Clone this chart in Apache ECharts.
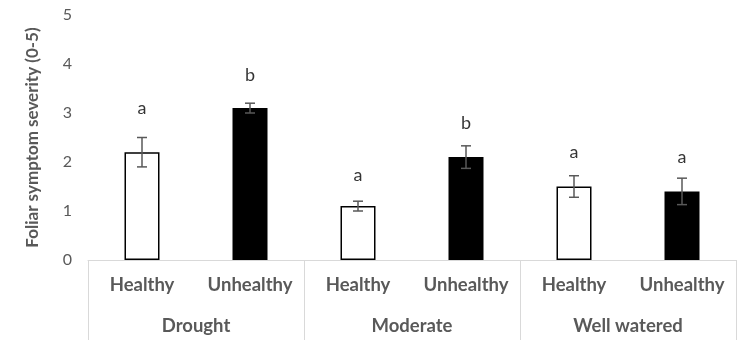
<!DOCTYPE html>
<html><head><meta charset="utf-8">
<script src="https://cdn.jsdelivr.net/npm/echarts@6/dist/echarts.min.js"></script>
<style>html,body{margin:0;padding:0;background:#fff}#c{width:755px;height:345px}</style>
</head><body><div id="c"></div>
<script>
const categories = ['Healthy','Unhealthy','Healthy','Unhealthy','Healthy','Unhealthy'];
const groups = ['Drought','Moderate','Well watered'];
const means = [2.2, 3.1, 1.1, 2.1, 1.5, 1.4];
const errors = [0.3, 0.1, 0.1, 0.23, 0.22, 0.27];
const letters = ['a','b','a','b','a','a'];
const letterY = [3.1, 3.78, 1.73, 2.79, 2.21, 2.1];
const yTicks = [0,1,2,3,4,5];

const FONT = 'Lato';
const GRAY = '#595959';
const chart = echarts.init(document.getElementById('c'), null, {renderer:'canvas'});
chart.setOption({
  animation:false,
  grid:{left:88, right:19, top:15, bottom:85},
  xAxis:[{
    type:'category', data:categories, position:'bottom',
    axisLine:{show:true, lineStyle:{color:'#d9d9d9', width:1}},
    axisTick:{show:false},
    axisLabel:{interval:0, hideOverlap:false, color:GRAY, fontFamily:FONT, fontWeight:'bold', fontSize:18.5, margin:16}
  },{
    type:'category', data:groups, position:'bottom',
    axisLine:{show:false},
    axisTick:{show:true, inside:false, length:80, lineStyle:{color:'#d9d9d9', width:1}},
    axisLabel:{interval:0, color:GRAY, fontFamily:FONT, fontWeight:'bold', fontSize:18.5, margin:57}
  }],
  yAxis:{
    type:'value', min:yTicks[0], max:yTicks[yTicks.length-1], interval:1,
    name:'Foliar symptom severity (0-5)', nameLocation:'middle', nameGap:47,
    nameTextStyle:{color:GRAY, fontFamily:FONT, fontWeight:'bold', fontSize:17},
    axisLine:{show:false}, axisTick:{show:false}, splitLine:{show:false},
    axisLabel:{color:GRAY, fontFamily:FONT, fontSize:16, margin:16}
  },
  series:[{
    type:'bar', xAxisIndex:0, barWidth:35,
    data: means.map((v,i)=>({value:v, itemStyle: i%2===0 ? {color:'#ffffff', borderColor:'#000', borderWidth:1.5} : {color:'#000', borderColor:'#000', borderWidth:1.5}}))
  },{
    type:'custom', xAxisIndex:0,
    data: means.map((v,i)=>[i, v, errors[i]]),
    renderItem:function(params, api){
      const x = api.value(0), m = api.value(1), e = api.value(2);
      const top = api.coord([x, m+e]);
      const bot = api.coord([x, m-e]);
      const w = 5;
      const st = {stroke:'#595959', lineWidth:1.5};
      return {type:'group', children:[
        {type:'line', shape:{x1:top[0], y1:top[1], x2:bot[0], y2:bot[1]}, style:st},
        {type:'line', shape:{x1:top[0]-w, y1:top[1], x2:top[0]+w, y2:top[1]}, style:st},
        {type:'line', shape:{x1:bot[0]-w, y1:bot[1], x2:bot[0]+w, y2:bot[1]}, style:st}
      ]};
    },
    z:5
  },{
    type:'scatter', xAxisIndex:0, symbolSize:0,
    data: letterY.map((v,i)=>({value:[i, v], name:letters[i]})),
    label:{show:true, position:'inside', formatter:p=>p.name, color:'#000', fontFamily:FONT, fontSize:18}
  }]
});
</script></body></html>
